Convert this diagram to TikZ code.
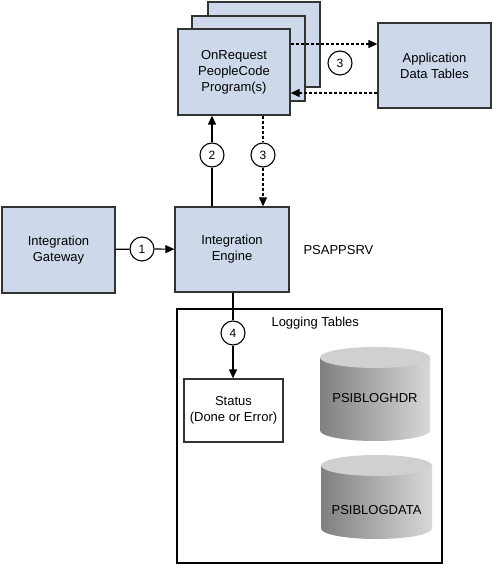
\documentclass[tikz,border=0pt]{standalone}
\usepackage{fontspec}
\setmainfont{Liberation Sans}
\usetikzlibrary{arrows.meta}
\definecolor{boxfill}{HTML}{CDD9EA}
\definecolor{boxline}{HTML}{333333}
\definecolor{cylL}{HTML}{808080}
\definecolor{cylR}{HTML}{D8D8D8}
\definecolor{cylT}{HTML}{D0D0D0}
\begin{document}
\begin{tikzpicture}[x=1pt, y=1pt, font=\fontsize{13}{16}\selectfont]
\tikzset{box/.style={draw=boxline, fill=boxfill, line width=1.3pt, minimum width=113pt, minimum height=85pt, align=center},
num/.style={circle, draw, line width=1.1pt, fill=white, minimum size=24pt, inner sep=0pt, font=\fontsize{12}{14}\selectfont},
arr/.style={line width=1.2pt, -{Triangle[length=9pt, width=8pt]}},
dashline/.style={line width=1.2pt, dash pattern=on 3pt off 2pt}}

\useasboundingbox (0,0) rectangle (493,564);

% Stacked programs
\node[box, minimum width=112pt] (prog3) at (264,519.5) {};
\node[box] (prog2) at (248.5,505.5) {};
\node[box, minimum width=112pt, minimum height=86pt] (prog) at (234,492)
{OnRequest\\PeopleCode\\Program(s)};

\node[box] (appdata) at (434.5,498.5) {Application\\Data Tables};

% Gateway and engine
\node[box, minimum height=86pt] (gateway) at (58.5,314) {Integration\\Gateway};
\node[box, minimum width=114pt] (engine) at (232,314.5) {Integration\\Engine};
\node[anchor=west] (psappsrv) at (300,314) {PSAPPSRV};

% Logging tables
\node[draw, line width=1.1pt, minimum width=265pt, minimum height=254pt] (logbox) at (309.5,128) {};
\node[anchor=west] (loglabel) at (268,241) {Logging Tables};
\node[draw=boxline, fill=white, line width=1.3pt, minimum width=99pt, minimum height=63pt, align=center] (status) at (233.5,153.5)
{Status\\(Done or Error)};

\shade[left color=cylL, right color=cylR] (320,206.5) -- (320,133.5)
arc[start angle=180, end angle=360, x radius=55, y radius=10.5] -- (430,206.5) -- cycle;
\fill[cylT] (375,206.5) ellipse [x radius=55, y radius=10.5];
\node (hdr) at (375,166) {PSIBLOGHDR};

\shade[left color=cylL, right color=cylR] (321,98.5) -- (321,35.5)
arc[start angle=180, end angle=360, x radius=55.5, y radius=10.5] -- (432,98.5) -- cycle;
\fill[cylT] (376.5,98.5) ellipse [x radius=55.5, y radius=10.5];
\node (data) at (376.5,54) {PSIBLOGDATA};

% Step numbers
\node[num] (c1) at (142,315) {1};
\node[num] (c2) at (212,409) {2};
\node[num] (c3) at (263,409) {3};
\node[num] (c3a) at (340,501) {3};
\node[num] (c4) at (233,231) {4};

% Connections
\draw[line width=1.2pt] (gateway) -- (c1);
\draw[arr] (c1) -- (engine);

\draw[line width=1.2pt] (c2 |- engine.north) -- (c2);
\draw[arr] (c2) -- (c2 |- prog.south);

\draw[dashline] (c3 |- prog.south) -- (c3);
\draw[dashline, arr] (c3) -- (c3 |- engine.north);

\draw[dashline, arr] (prog.east |- 0,520) -- (appdata.west |- 0,520);
\draw[dashline, arr] (appdata.west |- 0,471) -- (prog.east |- 0,471);

\draw[line width=1.2pt] (c4 |- engine.south) -- (c4);
\draw[arr] (c4) -- (c4 |- status.north);

\end{tikzpicture}
\end{document}
